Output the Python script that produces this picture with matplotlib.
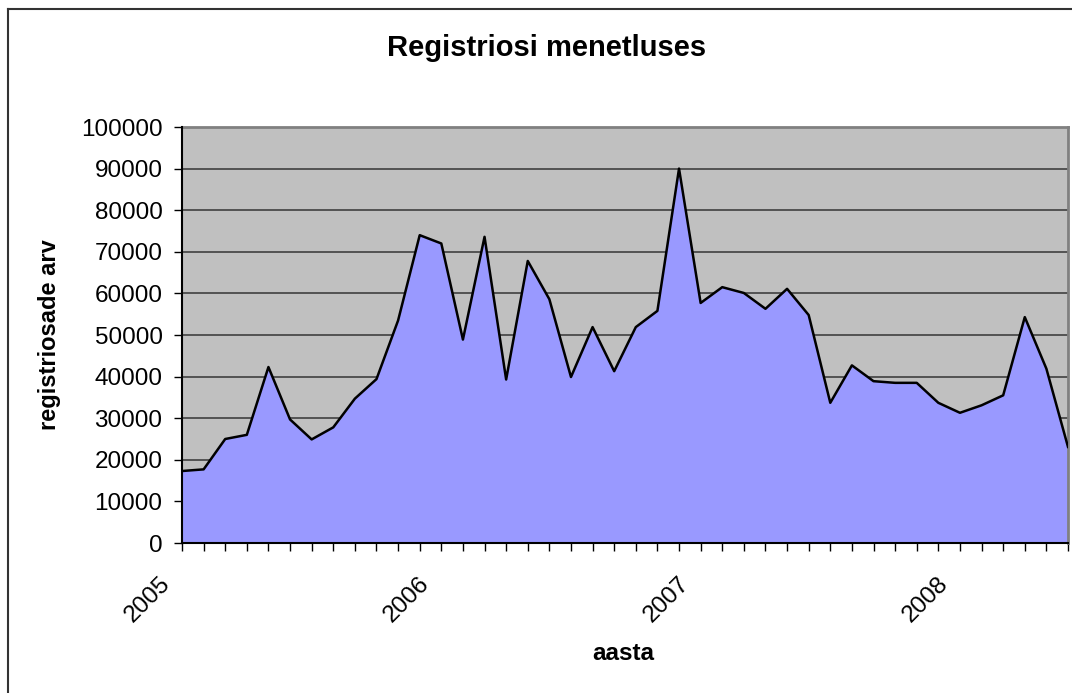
import numpy as np
import matplotlib
matplotlib.use('Agg')
import matplotlib.pyplot as plt
from matplotlib.lines import Line2D
from matplotlib.transforms import ScaledTranslation

plt.rcParams['font.family'] = ['Liberation Sans', 'DejaVu Sans']

# monthly values Jan 2005 .. Jun 2008
values = [17300, 17700, 25000, 26000, 42300, 29700, 24900, 27800, 34700, 39400,
          53500, 74000, 72000, 48900, 73600, 39300, 67800, 58600, 39900, 51900,
          41300, 51900, 55800, 90000, 57700, 61500, 60100, 56300, 61100, 54800,
          33700, 42700, 38900, 38500, 38500, 33700, 31300, 33100, 35500, 54300,
          41900, 23100]
year_labels = ['2005', '2006', '2007', '2008']
year_pos = [0, 12, 24, 36]
y_ticks = list(range(0, 100001, 10000))

x = np.arange(len(values))

fig = plt.figure(figsize=(10.72, 6.93), dpi=100)
ax = fig.add_axes([182 / 1072, 150 / 693, 886 / 1072, 416 / 693])
ax.set_facecolor('#C0C0C0')

ax.fill_between(x, values, 0, color='#9999FF', zorder=2, linewidth=0)
ax.plot(x, values, color='black', linewidth=1.8, zorder=3)

ax.set_xlim(0, len(values) - 1)
ax.set_ylim(0, 100000)
ax.set_yticks(y_ticks)
ax.set_yticklabels([str(v) for v in y_ticks])
ax.yaxis.grid(True, color='#404040', linewidth=1.2, zorder=1)
ax.set_axisbelow(True)

# month ticks, year labels placed below at Jan of each year
ax.set_xticks(x)
ax.set_xticklabels([])
shift = ax.get_xaxis_transform() + ScaledTranslation(-15 / 100, -37 / 100, fig.dpi_scale_trans)
for pos, lab in zip(year_pos, year_labels):
    ax.text(pos, 0, lab, transform=shift, rotation=45, rotation_mode='anchor',
            ha='right', va='center', fontsize=17.5)

ax.tick_params(axis='y', length=6, width=1, labelsize=17.5, pad=8, direction='out')
ax.tick_params(axis='x', length=6, width=1, direction='out')

for side in ['left', 'bottom']:
    ax.spines[side].set_color('black')
    ax.spines[side].set_linewidth(1.5)
    ax.spines[side].set_zorder(4)
for side in ['top', 'right']:
    ax.spines[side].set_color('#808080')
    ax.spines[side].set_linewidth(2)

ax.set_ylabel('registriosade arv', fontsize=17, fontweight='bold', labelpad=14)
fig.text(623 / 1072, 1 - 653 / 693, 'aasta', fontsize=17.5, fontweight='bold',
         ha='center', va='center')
fig.text(547 / 1072, 1 - 48 / 693, 'Registriosi menetluses', fontsize=21,
         fontweight='bold', ha='center', va='center')

# outer chart border
fig.add_artist(Line2D([8 / 1072, 1.0], [1 - 9 / 693, 1 - 9 / 693],
                      transform=fig.transFigure, color='#333333', linewidth=1.5))
fig.add_artist(Line2D([8 / 1072, 8 / 1072], [0, 1 - 9 / 693],
                      transform=fig.transFigure, color='#333333', linewidth=1.5))

fig.savefig('out.png', dpi=100)
